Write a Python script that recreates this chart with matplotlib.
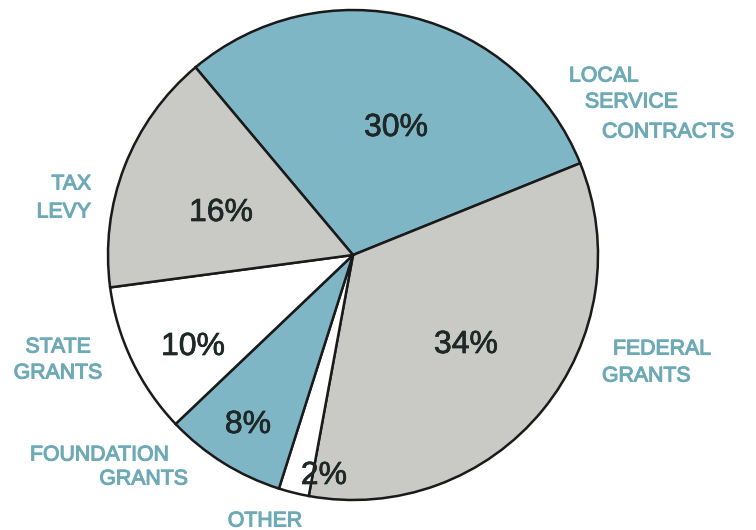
import matplotlib
matplotlib.use("Agg")
import matplotlib.pyplot as plt
import matplotlib.patheffects as pe

# slices, clockwise from the top-left
names = ["LOCAL\nSERVICE\nCONTRACTS", "FEDERAL\nGRANTS", "OTHER",
         "FOUNDATION\nGRANTS", "STATE\nGRANTS", "TAX\nLEVY"]
shares = [30, 34, 2, 8, 10, 16]

blue = "#7fb6c6"
grey = "#c9cac6"
slice_colors = [blue, grey, "white", blue, "white", grey]
label_color = "#6eaab6"
pct_color = "#1e2826"

plt.rcParams["font.family"] = ["Liberation Sans", "DejaVu Sans"]

fig = plt.figure(figsize=(7.56, 5.30), dpi=100)
ax = fig.add_axes([0, 0, 1, 1])

cx, cy, r = 353, 530 - 255, 245
wedges, _ = ax.pie(shares, colors=slice_colors, startangle=130, counterclock=False,
                   center=(cx, cy), radius=r,
                   wedgeprops=dict(edgecolor="#1a1a1a", linewidth=1.8))

ax.set_xlim(0, 756)
ax.set_ylim(0, 530)
ax.set_aspect("equal")
ax.axis("off")

# percent labels placed where the original has them (pixel coords, y from top)
pct_pos = [(396, 128), (466, 345), (324, 476), (248, 425), (193, 347), (221, 213)]
for (x, y), v in zip(pct_pos, shares):
    ax.text(x, 530 - y, f"{v}%", fontsize=23, color=pct_color,
            ha="center", va="center",
            path_effects=[pe.withStroke(linewidth=0.5, foreground=pct_color)])

lab = dict(fontsize=15.3, color=label_color, va="center",
           path_effects=[pe.withStroke(linewidth=0.8, foreground=label_color)])

# category labels
lines_local = names[0].split("\n")
for i, (x, y) in enumerate([(569, 76), (585, 102), (602, 132)]):
    ax.text(x, 530 - y, lines_local[i], ha="left", **lab)

fed = names[1].split("\n")
ax.text(613, 530 - 349, fed[0], ha="left", **lab)
ax.text(602, 530 - 376, fed[1], ha="left", **lab)

ax.text(265, 530 - 521, names[2], ha="center", **lab)

fnd = names[3].split("\n")
ax.text(30, 530 - 455, fnd[0], ha="left", **lab)
ax.text(188, 530 - 479, fnd[1], ha="right", **lab)

st = names[4].split("\n")
ax.text(58, 530 - 347, st[0], ha="center", **lab)
ax.text(58, 530 - 373, st[1], ha="center", **lab)

tx = names[5].split("\n")
ax.text(91, 530 - 184, tx[0], ha="right", **lab)
ax.text(91, 530 - 212, tx[1], ha="right", **lab)

fig.savefig("out.png", dpi=100, facecolor="white")
